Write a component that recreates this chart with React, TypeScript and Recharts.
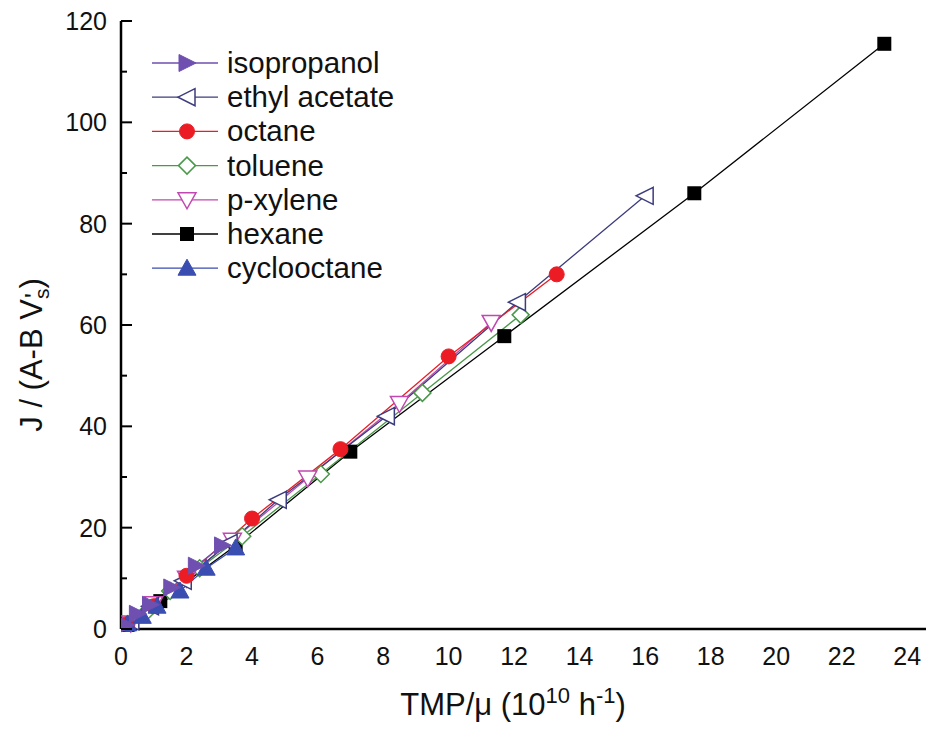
import React from "react";
import { LineChart, Line, XAxis, YAxis, Legend, Label } from "recharts";

// ---- data ----
const isopropanolX = [0.15, 0.5, 0.9, 1.55, 2.3, 3.1];
const isopropanolY = [0.8, 3.0, 4.8, 8.2, 12.5, 16.5];

const ethylAcetateX = [0.3, 0.9, 1.9, 3.3, 4.8, 8.1, 12.1, 16.0];
const ethylAcetateY = [1.5, 4.5, 9.5, 17.0, 25.5, 42.0, 64.5, 85.5];

const octaneX = [0.2, 1.0, 2.0, 4.0, 6.7, 10.0, 13.3];
const octaneY = [1.0, 4.5, 10.5, 21.8, 35.5, 53.8, 70.0];

const tolueneX = [0.3, 0.8, 1.5, 2.4, 3.7, 6.1, 9.2, 12.2];
const tolueneY = [1.2, 3.5, 7.5, 12.0, 18.3, 30.6, 46.6, 62.0];

const pXyleneX = [0.3, 1.0, 2.0, 3.4, 5.7, 8.5, 11.3];
const pXyleneY = [1.2, 5.0, 10.0, 17.5, 29.8, 44.5, 60.5];

const hexaneX = [0.2, 1.2, 3.5, 7.0, 11.7, 17.5, 23.3];
const hexaneY = [0.8, 5.5, 16.5, 35.0, 57.8, 86.0, 115.5];

const cyclooctaneX = [0.2, 0.65, 1.1, 1.8, 2.6, 3.5];
const cyclooctaneY = [1.0, 2.5, 4.5, 7.5, 12.0, 16.0];

const xTicks = [0, 1, 2, 3, 4, 5, 6, 7, 8, 9, 10, 11, 12, 13, 14, 15, 16, 17, 18, 19, 20, 21, 22, 23, 24, 25];
const xLabelled = [0, 2, 4, 6, 8, 10, 12, 14, 16, 18, 20, 22, 24];
const yTicks = [0, 10, 20, 30, 40, 50, 60, 70, 80, 90, 100, 110, 120];
const yLabelled = [0, 20, 40, 60, 80, 100, 120];

const FONT = '"Liberation Sans", Arial, Helvetica, sans-serif';

const zip = (xs: number[], ys: number[]) => xs.map((x, i) => ({ x, y: ys[i] }));

type MarkerKind = "right" | "left" | "circle" | "diamond" | "down" | "square" | "up";

function markerShape(kind: MarkerKind, cx: number, cy: number, color: string, key?: any) {
  const sw = 1.5;
  switch (kind) {
    case "right":
      return <polygon key={key} points={`${cx - 8},${cy - 8.5} ${cx + 9},${cy} ${cx - 8},${cy + 8.5}`} fill={color} stroke={color} strokeWidth={1} />;
    case "left":
      return <polygon key={key} points={`${cx + 8},${cy - 8.5} ${cx - 9},${cy} ${cx + 8},${cy + 8.5}`} fill="#fff" stroke={color} strokeWidth={sw} />;
    case "circle":
      return <circle key={key} cx={cx} cy={cy} r={7.5} fill={color} stroke={color} strokeWidth={1} />;
    case "diamond":
      return <polygon key={key} points={`${cx},${cy - 8.5} ${cx + 8.5},${cy} ${cx},${cy + 8.5} ${cx - 8.5},${cy}`} fill="#fff" stroke={color} strokeWidth={sw} />;
    case "down":
      return <polygon key={key} points={`${cx - 9},${cy - 7} ${cx + 9},${cy - 7} ${cx},${cy + 9}`} fill="#fff" stroke={color} strokeWidth={sw} />;
    case "square":
      return <rect key={key} x={cx - 7} y={cy - 7} width={14} height={14} fill={color} />;
    case "up":
    default:
      return <polygon key={key} points={`${cx - 9},${cy + 7} ${cx + 9},${cy + 7} ${cx},${cy - 9}`} fill={color} stroke={color} strokeWidth={1} />;
  }
}

const series: { name: string; xs: number[]; ys: number[]; color: string; kind: MarkerKind }[] = [
  { name: "isopropanol", xs: isopropanolX, ys: isopropanolY, color: "#6f4fb0", kind: "right" },
  { name: "ethyl acetate", xs: ethylAcetateX, ys: ethylAcetateY, color: "#3c3c7e", kind: "left" },
  { name: "octane", xs: octaneX, ys: octaneY, color: "#ec1c24", kind: "circle" },
  { name: "toluene", xs: tolueneX, ys: tolueneY, color: "#4a984a", kind: "diamond" },
  { name: "p-xylene", xs: pXyleneX, ys: pXyleneY, color: "#c048b0", kind: "down" },
  { name: "hexane", xs: hexaneX, ys: hexaneY, color: "#000000", kind: "square" },
  { name: "cyclooctane", xs: cyclooctaneX, ys: cyclooctaneY, color: "#3a4db0", kind: "up" },
];

const drawOrder = ["hexane", "toluene", "p-xylene", "ethyl acetate", "octane", "cyclooctane", "isopropanol"];

const XTick = (props: any) => {
  const { x, y, payload } = props;
  const v = payload.value;
  if (!xLabelled.includes(v)) return <g />;
  return (
    <text x={x} y={y + 36} textAnchor="middle" fontSize={25} fontFamily={FONT} fill="#111">
      {v}
    </text>
  );
};

const YTick = (props: any) => {
  const { x, y, payload } = props;
  const v = payload.value;
  const major = yLabelled.includes(v);
  return (
    <g>
      <line x1={x} y1={y} x2={x + (major ? 11 : 6)} y2={y} stroke="#000" strokeWidth={2} />
      {major && (
        <text x={x - 14} y={y + 9} textAnchor="end" fontSize={25} fontFamily={FONT} fill="#111">
          {v}
        </text>
      )}
    </g>
  );
};

const LegendContent = () => (
  <svg width={300} height={250} style={{ display: "block", overflow: "visible" }}>
    {series.map((s, i) => {
      const cy = 15 + i * 34.2;
      return (
        <g key={s.name}>
          <line x1={0} y1={cy} x2={66} y2={cy} stroke={s.color} strokeWidth={1.3} />
          {markerShape(s.kind, 35, cy, s.color)}
          <text x={75} y={cy + 10} fontSize={29.5} fontFamily={FONT} fill="#111">
            {s.name}
          </text>
        </g>
      );
    })}
  </svg>
);

const YTitle = () => (
  <g transform="translate(34,347) rotate(-90)">
    <text x={0} y={0} textAnchor="middle" fontSize={31} fontFamily={FONT} fill="#111">
      J / (A-B V
      <tspan fontSize={21} dy={7}>s</tspan>
      <tspan dy={-7}>)</tspan>
    </text>
    <text x={57} y={1} fontSize={26} fontFamily={FONT} fill="#111">
      '
    </text>
  </g>
);

const XTitle = () => (
  <text x={505} y={707} textAnchor="middle" fontSize={31} fontFamily={FONT} fill="#111">
    TMP/μ (10
    <tspan fontSize={22} dy={-12}>10</tspan>
    <tspan dy={12}> h</tspan>
    <tspan fontSize={22} dy={-12}>-1</tspan>
    <tspan dy={12}>)</tspan>
  </text>
);

export default function App() {
  return (
    <div style={{ width: 918, height: 725, overflow: "hidden", background: "#fff" }}>
      <LineChart width={950} height={725} margin={{ top: 13, right: 18, bottom: 0, left: 0 }}>
        <XAxis
          xAxisId="b"
          type="number"
          dataKey="x"
          domain={[0, 25]}
          ticks={xTicks}
          interval={0}
          height={104}
          tickSize={0}
          tickMargin={0}
          tickLine={false}
          tick={<XTick />}
          axisLine={{ stroke: "#000", strokeWidth: 2.5 }}
          allowDataOverflow
        >
          <Label content={<XTitle />} />
        </XAxis>
        <XAxis xAxisId="t" orientation="top" type="number" domain={[0, 25]} height={0} tick={false} tickLine={false} axisLine={{ stroke: "#000", strokeWidth: 2.5 }} />
        <YAxis
          yAxisId="l"
          type="number"
          domain={[0, 120]}
          ticks={yTicks}
          interval={0}
          width={113}
          tickSize={0}
          tickMargin={0}
          tickLine={false}
          tick={<YTick />}
          axisLine={{ stroke: "#000", strokeWidth: 2.5 }}
        >
          <Label content={<YTitle />} />
        </YAxis>
        <YAxis yAxisId="r" orientation="right" domain={[0, 120]} width={0} tick={false} tickLine={false} axisLine={{ stroke: "#000", strokeWidth: 2.5 }} />
        <Legend
          layout="vertical"
          align="center"
          verticalAlign="middle"
          content={<LegendContent />}
          wrapperStyle={{ position: "absolute", left: 144, top: 40, width: 300, height: 250 }}
        />
        {drawOrder.map((nm) => {
          const s = series.find((q) => q.name === nm)!;
          return (
            <Line
              key={s.name}
              xAxisId="b"
              yAxisId="l"
              name={s.name}
              data={zip(s.xs, s.ys)}
              dataKey="y"
              stroke={s.color}
              strokeWidth={1.3}
              isAnimationActive={false}
              legendType="none"
              dot={(p: any) => markerShape(s.kind, p.cx, p.cy, s.color, `${s.name}-${p.index}`)}
              activeDot={false}
            />
          );
        })}
      </LineChart>
    </div>
  );
}
